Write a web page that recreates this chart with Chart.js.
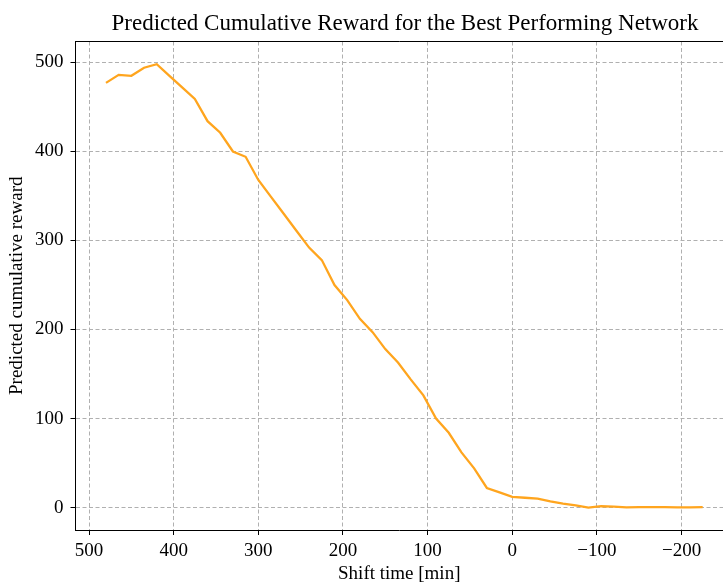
<!DOCTYPE html>
<html lang="en">
<head>
    <meta charset="UTF-8">
    <meta name="viewport" content="width=device-width, initial-scale=1.0">
    <title>Predicted Cumulative Reward</title>
    <script src="https://cdn.jsdelivr.net/npm/chart.js"></script>
</head>
<style>
  html, body {
    margin: 0;
    padding: 0;
    background: #ffffff;
  }
  .grafico {
    width: 723px;
    height: 585px;
  }
</style>
<body>
  <div class="grafico">
    <canvas id="myChart" width="723" height="585"></canvas>
  </div>
</body>
</html>
<script>

// shift time in minutes (x axis runs from 480 down to -225)
const shiftTime = [480, 465, 450, 435, 420, 405, 390, 375, 360, 345, 330, 315,
                   300, 285, 270, 255, 240, 225, 210, 195, 180, 165, 150, 135,
                   120, 105, 90, 75, 60, 45, 30, 15, 0, -15, -30, -45, -60, -75,
                   -90, -105, -120, -135, -150, -165, -180, -195, -210, -225];

// predicted cumulative reward
const reward = [477, 486, 485, 494, 498, 485, 472, 459, 434, 421, 400, 394,
                368, 349, 330, 311, 292, 278, 250, 233, 212, 197, 178, 163,
                144, 126, 100, 84, 62, 44, 22, 17, 12, 11, 10, 7, 4.5, 2.5,
                0, 1.5, 1, 0.3, 0.5, 0.5, 0.4, 0.3, 0.3, 0.4];

const xTicks = [500, 400, 300, 200, 100, 0, -100, -200];
const yTicks = [0, 100, 200, 300, 400, 500];

const titulo = 'Predicted Cumulative Reward for the Best Performing Network';
const fonte = 'Liberation Serif';

let pontos = [];
for (let i = 0; i < shiftTime.length; i++) {
    pontos.push({x: shiftTime[i], y: reward[i]});
}

function menos(v) {
    // matplotlib style minus sign
    return String(v).replace('-', '\u2212');
}

// draws the title over the axes and the top spine
const molduraPlugin = {
    id: 'moldura',
    afterDraw(chart) {
        const c = chart.ctx;
        const a = chart.chartArea;
        c.save();
        c.strokeStyle = '#000000';
        c.lineWidth = 1;
        c.beginPath();
        c.moveTo(a.left, a.top);
        c.lineTo(a.right + 10, a.top);
        c.stroke();
        c.fillStyle = '#000000';
        c.font = '23px "' + fonte + '"';
        c.textAlign = 'center';
        c.textBaseline = 'alphabetic';
        c.fillText(titulo, 405, 30);
        c.restore();
    }
};

const config = {
    type: 'line',
    data: {
        datasets: [{
            label: 'reward',
            data: pontos,
            borderColor: '#ffa51e',
            borderWidth: 2.3,
            pointRadius: 0,
            tension: 0,
            fill: false
        }]
    },
    options: {
        responsive: false,
        animation: false,
        layout: {
            padding: {top: 41.5, right: 0, left: 0, bottom: 0}
        },
        plugins: {
            legend: {display: false},
            tooltip: {enabled: false}
        },
        scales: {
            x: {
                type: 'linear',
                reverse: true,
                min: -249,
                max: 516,
                afterBuildTicks: (s) => { s.ticks = xTicks.map(v => ({value: v})); },
                afterFit: (s) => { s.height = 55; },
                ticks: {
                    color: '#000000',
                    font: {family: fonte, size: 19},
                    padding: 5,
                    maxRotation: 0,
                    callback: (v) => menos(v)
                },
                grid: {
                    color: '#b0b0b0',
                    lineWidth: 1,
                    tickLength: 5,
                    tickColor: '#000000'
                },
                border: {display: true, color: '#000000', width: 1, dash: [4, 2.5]},
                title: {
                    display: true,
                    text: 'Shift time [min]',
                    color: '#000000',
                    font: {family: fonte, size: 19, lineHeight: 1},
                    padding: {top: 0, bottom: 1}
                }
            },
            y: {
                type: 'linear',
                min: -25.2,
                max: 523.5,
                afterBuildTicks: (s) => { s.ticks = yTicks.map(v => ({value: v})); },
                afterFit: (s) => { s.width = 75.5; },
                ticks: {
                    color: '#000000',
                    font: {family: fonte, size: 19},
                    padding: 7
                },
                grid: {
                    color: '#b0b0b0',
                    lineWidth: 1,
                    tickLength: 5,
                    tickColor: '#000000'
                },
                border: {display: true, color: '#000000', width: 1, dash: [4, 2.5]},
                title: {
                    display: true,
                    text: 'Predicted cumulative reward',
                    color: '#000000',
                    font: {family: fonte, size: 19},
                    padding: {top: 6, bottom: 0}
                }
            }
        }
    },
    plugins: [molduraPlugin]
};

new Chart(document.getElementById('myChart'), config);

</script>
